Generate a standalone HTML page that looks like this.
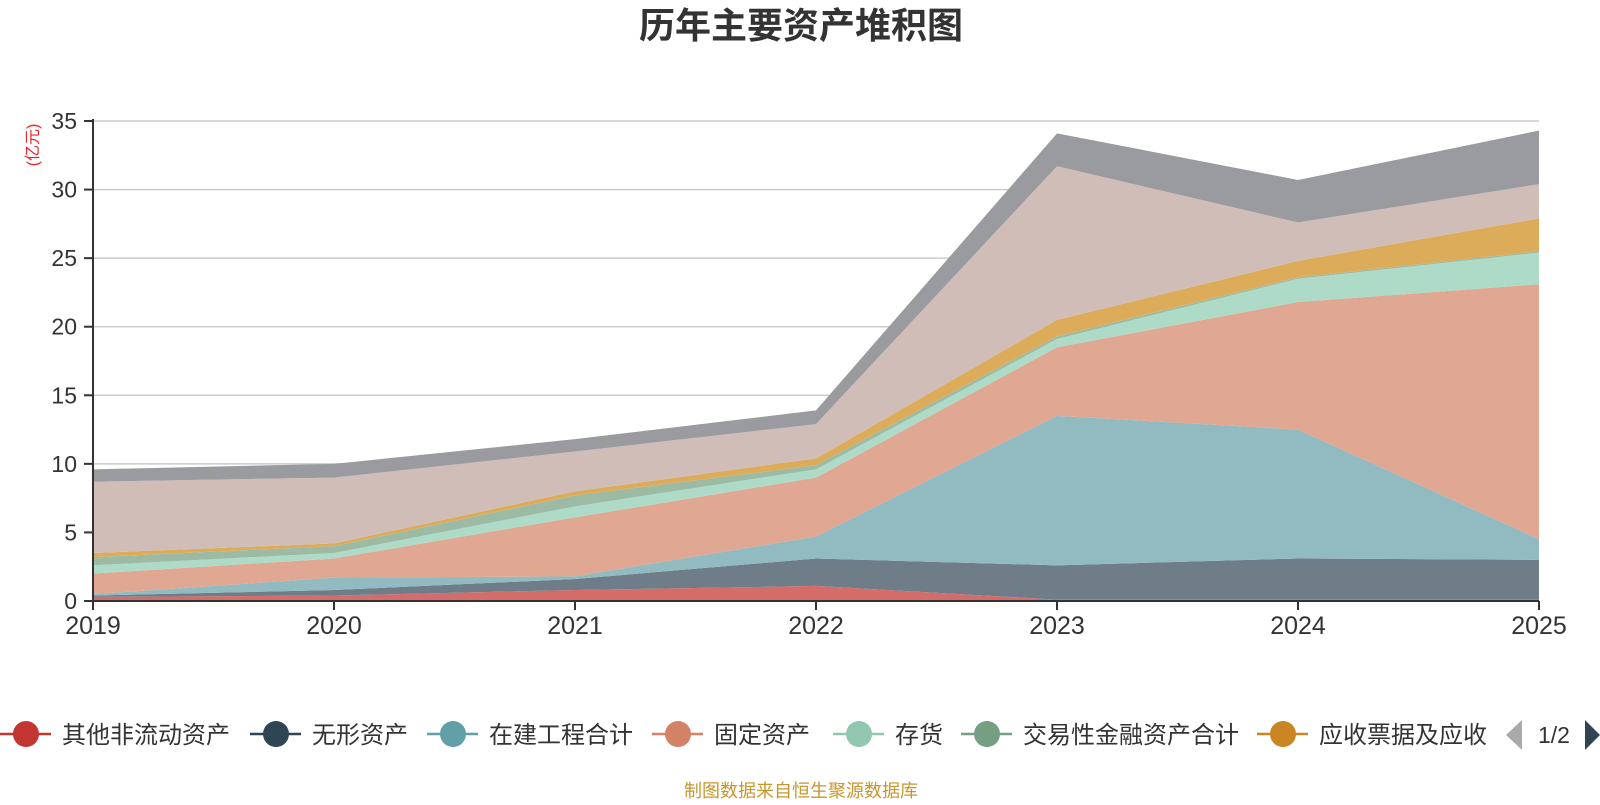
<!DOCTYPE html>
<html><head><meta charset="utf-8">
<style>
body{margin:0;background:#fff;width:1600px;height:800px;overflow:hidden;font-family:"Liberation Sans","Noto Sans CJK SC",sans-serif;}
svg text{font-family:"Liberation Sans","Noto Sans CJK SC",sans-serif;}
</style></head><body>
<svg id="chart" width="1600" height="800" xmlns="http://www.w3.org/2000/svg">
<text x="801" y="38" text-anchor="middle" font-size="36" font-weight="bold" fill="#333">历年主要资产堆积图</text>
<text transform="translate(38,145) rotate(-90)" text-anchor="middle" font-size="16" fill="#e8262b">(亿元)</text>
<g id="grid"></g><g id="areas"></g><g id="axes"></g>
<g id="legend"></g>
<text x="801" y="797" text-anchor="middle" font-size="18" fill="#c8962e">制图数据来自恒生聚源数据库</text>
</svg>
<script>
const years=["2019","2020","2021","2022","2023","2024","2025"];
const yTicks=[0,5,10,15,20,25,30,35];
const s1=[0.3,0.4,0.8,1.1,0.1,0.1,0.1];
const s2=[0.1,0.4,0.8,2.0,2.5,3.0,2.9];
const s3=[0.1,0.9,0.2,1.6,10.9,9.4,1.5];
const s4=[1.5,1.4,4.3,4.3,5.0,9.3,18.6];
const s5=[0.6,0.4,0.8,0.6,0.6,1.7,2.3];
const s6=[0.6,0.5,0.8,0.3,0.2,0.1,0.1];
const s7=[0.3,0.2,0.3,0.5,1.2,1.2,2.4];
const s8=[5.2,4.8,2.9,2.5,11.2,2.8,2.5];
const s9=[0.9,1.0,0.9,1.0,2.4,3.1,3.9];
const seriesNames=["其他非流动资产","无形资产","在建工程合计","固定资产","存货","交易性金融资产合计","应收票据及应收","其他资产","其他"];
const series=[s1,s2,s3,s4,s5,s6,s7,s8,s9];
const fills=["#d46d6a","#6e7d88","#91bac1","#e0a892","#aedac8","#9dbba4","#ddac5b","#d0bdb7","#9a9b9f"];
const legendColors=["#c23531","#2f4554","#61a0a8","#d48265","#91c7ae","#749f83","#ca8622"];
const NS="http://www.w3.org/2000/svg";
const X0=93,X1=1539,Y0=601,Y1=121,YMAX=35;
const xs=i=>X0+(X1-X0)*i/(years.length-1);
const ys=v=>Y0-(Y0-Y1)*v/YMAX;
function mk(t,a,p){const e=document.createElementNS(NS,t);for(const k in a)e.setAttribute(k,a[k]);p.appendChild(e);return e;}
const grid=document.getElementById('grid'),axes=document.getElementById('axes'),areas=document.getElementById('areas'),leg=document.getElementById('legend');
yTicks.forEach(v=>{
 if(v>0){const l=mk('line',{x1:X0,x2:X1,y1:ys(v),y2:ys(v),stroke:'#ccc','stroke-width':1.5},grid);
 
 }
 const tk=mk('line',{x1:X0-9,x2:X0,y1:ys(v),y2:ys(v),stroke:'#333','stroke-width':2},axes);
 
 
 const t=mk('text',{x:X0-16,y:ys(v)+8,'text-anchor':'end','font-size':23,fill:'#333'},axes);t.textContent=v;
 
 
});
let base=years.map(()=>0);
series.forEach((s,k)=>{
 const top=base.map((b,i)=>b+s[i]);
 let d='M'+years.map((_,i)=>xs(i)+','+ys(top[i])).join('L');
 for(let i=years.length-1;i>=0;i--)d+='L'+xs(i)+','+ys(base[i]);
 const p=mk('path',{d:d+'Z',fill:fills[k]},areas);
 
 
 base=top;
});
const ax=mk('line',{x1:X0,x2:X0,y1:Y1-2,y2:Y0,stroke:'#333','stroke-width':2},axes);


const bx=mk('line',{x1:X0,x2:X1,y1:Y0,y2:Y0,stroke:'#333','stroke-width':2},axes);


years.forEach((y,i)=>{
 const tk=mk('line',{x1:xs(i),x2:xs(i),y1:Y0,y2:Y0+9,stroke:'#333','stroke-width':2},axes);
 
 
 const t=mk('text',{x:xs(i),y:Y0+33,'text-anchor':'middle','font-size':25,fill:'#333'},axes);t.textContent=y;
 
 
});
const lx=[0,250,427,652,833,961,1257],LY=734;
legendColors.forEach((c,k)=>{
 const g=mk('g',{},leg);
 
 
 mk('line',{x1:lx[k],x2:lx[k]+51,y1:LY,y2:LY,stroke:c,'stroke-width':2.5},g);
 mk('circle',{cx:lx[k]+26,cy:LY,r:13,fill:c},g);
 const t=mk('text',{x:lx[k]+62,y:LY+9,'font-size':24,fill:'#333'},g);t.textContent=seriesNames[k];
});
const pl=mk('polygon',{points:'1522,720 1506,735 1522,750',fill:'#aaa'},leg);


const pt=mk('text',{x:1554,y:743,'text-anchor':'middle','font-size':23,fill:'#333'},leg);pt.textContent='1/2';


const pn=mk('polygon',{points:'1585,720 1600,735 1585,750',fill:'#2f4554'},leg);


</script>
</body></html>
